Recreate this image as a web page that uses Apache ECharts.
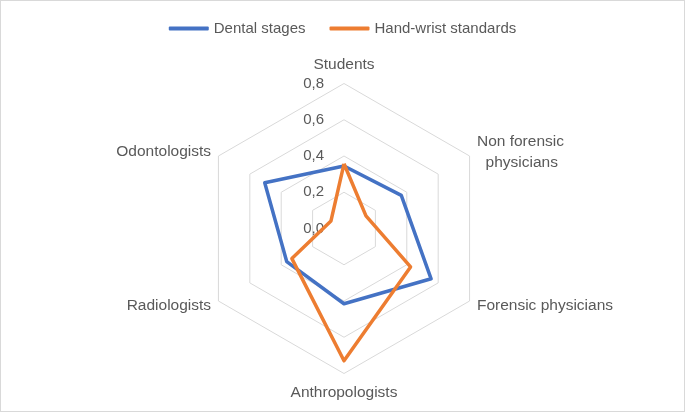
<!DOCTYPE html>
<html><head><meta charset="utf-8">
<script src="https://cdn.jsdelivr.net/npm/echarts@6/dist/echarts.min.js"></script>
<style>
html,body{margin:0;padding:0;background:#fff;}
#c{width:685px;height:412px;box-sizing:border-box;border:1px solid #d9d9d9;}
</style></head>
<body><div id="c"></div>
<script>
// Indicators listed clockwise from the top, as in the reference
const indicators = ['Students', 'Non forensic\n  physicians', 'Forensic physicians', 'Anthropologists', 'Radiologists', 'Odontologists'];
const seriesNames = ['Dental stages', 'Hand-wrist standards'];
const dentalStages = [0.345, 0.365, 0.555, 0.415, 0.365, 0.505];
const handWrist = [0.357, 0.14, 0.424, 0.73, 0.332, 0.083];
const axisMin = 0, axisMax = 0.8, axisSplits = 4;

// ECharts radar runs counter-clockwise; reorder to draw clockwise
const order = [0, 5, 4, 3, 2, 1];
const reorder = arr => order.map(i => arr[i]);

const chart = echarts.init(document.getElementById('c'), null, {renderer: 'canvas'});
const font = 'Liberation Sans';
chart.setOption({
  animation: false,
  color: ['#4472C4', '#ED7D31'],
  legend: {
    top: 15, left: 'center',
    icon: 'roundRect', itemWidth: 40, itemHeight: 4, itemGap: 24,
    textStyle: {fontFamily: font, fontSize: 15, color: '#595959'},
    data: seriesNames
  },
  radar: {
    center: [343, 227.5],
    radius: 145,
    startAngle: 90,
    shape: 'polygon',
    splitNumber: axisSplits,
    nameGap: 8.5,
    axisName: {fontFamily: font, fontSize: 15.5, color: '#595959', lineHeight: 21},
    axisLine: {show: false},
    axisTick: {show: false},
    splitArea: {show: false},
    splitLine: {lineStyle: {color: '#d9d9d9', width: 1}},
    axisLabel: {show: false},
    indicator: reorder(indicators).map((n, i) => {
      const o = {name: n, min: axisMin, max: axisMax};
      if (i === 0) o.axisLabel = {
        show: true, fontFamily: font, fontSize: 15, color: '#595959', margin: 20,
        formatter: v => Number(v).toFixed(1).replace('.', ',')
      };
      return o;
    })
  },
  series: [{
    type: 'radar',
    symbol: 'none',
    lineStyle: {width: 3.5},
    data: [
      {name: seriesNames[0], value: reorder(dentalStages), lineStyle: {color: '#4472C4', width: 3.5}, itemStyle: {color: '#4472C4'}},
      {name: seriesNames[1], value: reorder(handWrist), lineStyle: {color: '#ED7D31', width: 3.5}, itemStyle: {color: '#ED7D31'}}
    ]
  }]
});
</script></body></html>
